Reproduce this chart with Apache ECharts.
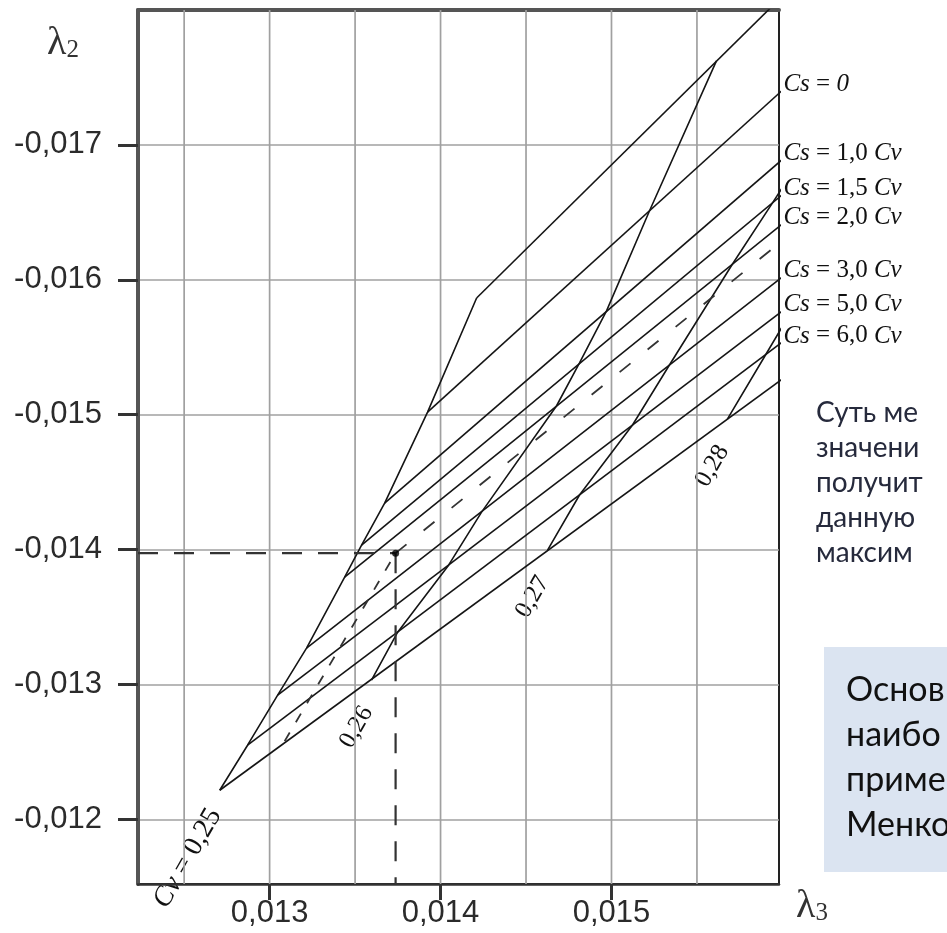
<!DOCTYPE html>
<html><head><meta charset="utf-8">
<script src="https://cdn.jsdelivr.net/npm/echarts@6/dist/echarts.min.js"></script>
<style>html,body{margin:0;padding:0;background:#fff}#c{width:947px;height:933px}</style>
</head><body><div id="c"></div>
<script>
// ---- axes ----
const lambda3Range = [0.01223, 0.01598];
const lambda2Range = [-0.018, -0.01152];
const lambda3Ticks = [0.013, 0.014, 0.015];
const lambda3Grid = [0.0125, 0.013, 0.0135, 0.014, 0.0145, 0.015, 0.0155];
const lambda2Ticks = [-0.017, -0.016, -0.015, -0.014, -0.013, -0.012];

// ---- nomogram: points of each Cv on each Cs line (lowest Cs line first) ----
const cv025 = [[0.012708,-0.012215],[0.012871,-0.012549],[0.013047,-0.01292],[0.013216,-0.013269],[0.013439,-0.013795],[0.013538,-0.014033],[0.013673,-0.014344],[0.013924,-0.015019],[0.014211,-0.015865]];
const cv026 = [[0.013596,-0.013031],[0.013749,-0.013387],[0.014047,-0.013884],[0.01424,-0.014277],[0.014678,-0.015064],[0.014813,-0.015383],[0.014971,-0.015769],[0.015222,-0.01651],[0.015614,-0.017623]];
const cv027 = [[0.014626,-0.013996],[0.014813,-0.014404],[0.015123,-0.014923],[0.015339,-0.015368],[0.015708,-0.016117],[0.015942,-0.01657],[0.016246,-0.017163]];
const cv028 = [[0.015678,-0.014967],[0.015901,-0.015442],[0.016099,-0.015865]];
const csLineEnd = [[0.016,-0.015264],[0.016,-0.015539],[0.016,-0.015769],[0.016,-0.016022],[0.016,-0.016415],[0.016,-0.016631],[0.016,-0.016892],[0.016,-0.017405],[0.016,-0.018103]];
const csLabels = ['', '6,0', '5,0', '3,0', '2,0', '1,5', '1,0', '0', ''];
const cvLabels = ['0,25', '0,26', '0,27', '0,28'];

// ---- worked example ----
const solvedPoint = [0.013737, -0.013973];
const dashedCvStart = [0.013088, -0.012579];
const dashedCsEnd = [0.016, -0.01629];

// ---- side texts ----
const noteLines = ['Суть ме', 'значени', 'получит', 'данную', 'максим'];
const boxLines = ['Основ', 'наибо', 'приме', 'Менко'];

const fmt = v => v.toFixed(3).replace('.', ',');
const chart = echarts.init(document.getElementById('c'), null, {renderer: 'canvas'});
const LINE = {color: '#151515', width: 1.6};
const GRIDLINE = {color: '#a0a0a0', width: 1.7};
const series = [];

lambda3Grid.forEach(v => {
  series.push({type: 'line', data: [[v, lambda2Range[0]], [v, lambda2Range[1]]], symbol: 'none', silent: true, z: 1, lineStyle: GRIDLINE});
});
cv025.forEach((p, i) => {
  series.push({type: 'line', data: [p, csLineEnd[i]], symbol: 'none', silent: true, z: 3, lineStyle: LINE});
});
[cv025, cv026, cv027, cv028].forEach(arr => {
  series.push({type: 'line', data: arr, symbol: 'none', silent: true, z: 3, lineStyle: LINE});
});
const DASH = {color: '#333', width: 2.2, type: [20, 16]};
series.push({type: 'line', data: [dashedCvStart, solvedPoint], symbol: 'none', silent: true, z: 3, lineStyle: {color: '#333', width: 1.8, type: [10, 12]}});
series.push({type: 'line', data: [solvedPoint, dashedCsEnd], symbol: 'none', silent: true, z: 3, lineStyle: {color: '#333', width: 1.8, type: [14, 22]}});
series.push({type: 'line', data: [[lambda3Range[0], solvedPoint[1]], solvedPoint], symbol: 'none', silent: true, z: 3, lineStyle: DASH});
series.push({type: 'line', data: [solvedPoint, [solvedPoint[0], lambda2Range[1]]], symbol: 'none', silent: true, z: 3, lineStyle: DASH});
series.push({type: 'scatter', data: [solvedPoint], symbolSize: 7, itemStyle: {color: '#000'}, z: 4, silent: true});

chart.setOption({
  animation: false,
  backgroundColor: '#fff',
  grid: {left: 138, top: 10, right: 168, bottom: 49, show: true, borderColor: '#222', borderWidth: 2},
  xAxis: [{
    type: 'value', min: lambda3Range[0], max: lambda3Range[1], position: 'bottom',
    axisLine: {show: true, onZero: false, lineStyle: {color: '#333', width: 2.5}},
    axisTick: {show: true, length: 16, customValues: lambda3Ticks, lineStyle: {color: '#333', width: 3}},
    axisLabel: {customValues: lambda3Ticks, formatter: fmt, margin: 14, color: '#2b2b2b', fontSize: 31, fontFamily: 'Liberation Sans'},
    splitLine: {show: false}
  }, {
    type: 'value', min: lambda3Range[0], max: lambda3Range[1], position: 'top',
    axisLine: {show: true, onZero: false, lineStyle: {color: '#555', width: 4}},
    axisTick: {show: false}, axisLabel: {show: false}, splitLine: {show: false}
  }],
  yAxis: {
    type: 'value', inverse: true, min: lambda2Range[0], max: lambda2Range[1], interval: 0.0005,
    axisLine: {show: true, onZero: false, lineStyle: {color: '#555', width: 4}},
    axisTick: {show: true, length: 20, customValues: lambda2Ticks, lineStyle: {color: '#333', width: 3}},
    axisLabel: {customValues: lambda2Ticks, formatter: fmt, margin: 36, color: '#2b2b2b', fontSize: 31, fontFamily: 'Liberation Sans'},
    splitLine: {show: true, lineStyle: GRIDLINE}
  },
  series: series
});

// ---- labels positioned through the chart's scales ----
const px = p => chart.convertToPixel({gridIndex: 0}, p);
const CSF = 25;
const serifRich = {
  i: {fontFamily: 'Liberation Serif', fontStyle: 'italic', fontSize: CSF, fill: '#111'},
  n: {fontFamily: 'Liberation Serif', fontSize: CSF, fill: '#111'}
};
const graphics = [];
csLabels.forEach((lab, i) => {
  if (!lab) return;
  const e = px(csLineEnd[i]);
  const text = lab === '0' ? '{i|Cs}{n| = }{i|0}' : '{i|Cs}{n| = ' + lab + ' }{i|Cv}';
  graphics.push({type: 'text', x: e[0] + 1, y: e[1] - 6, silent: true,
    style: {text: text, align: 'left', verticalAlign: 'middle', rich: serifRich, font: CSF + 'px Liberation Serif'}});
});
[cv025, cv026, cv027, cv028].forEach((arr, k) => {
  const s = px(arr[0]);
  const off = k === 0 ? [-32, 68] : [-15, 47];
  const fs = k === 0 ? 28 : 25;
  const text = k === 0 ? '{i|Cv}{n| = ' + cvLabels[k] + '}' : '{n|' + cvLabels[k] + '}';
  graphics.push({type: 'text', x: s[0] + off[0], y: s[1] + off[1], rotation: Math.PI / 3, silent: true,
    style: {text: text, align: 'center', verticalAlign: 'middle',
      rich: {i: {fontFamily: 'Liberation Serif', fontStyle: 'italic', fontSize: fs, fill: '#111'},
             n: {fontFamily: 'Liberation Serif', fontSize: fs, fill: '#111'}}}});
});
const corner = px([lambda3Range[0], lambda2Range[0]]);
const cornerBR = px([lambda3Range[1], lambda2Range[1]]);
const lamRich = {l: {fontFamily: 'Liberation Serif', fontSize: 40, fill: '#333'}, s: {fontFamily: 'Liberation Serif', fontSize: 25, fill: '#333', verticalAlign: 'bottom', padding: [12, 0, 0, 0]}};
graphics.push({type: 'text', x: corner[0] - 59, y: corner[1] + 33, silent: true,
  style: {text: '{l|λ}{s|2}', align: 'right', verticalAlign: 'middle', rich: lamRich}});
graphics.push({type: 'text', x: cornerBR[0] + 17, y: cornerBR[1] + 22, silent: true,
  style: {text: '{l|λ}{s|3}', align: 'left', verticalAlign: 'middle', rich: lamRich}});
noteLines.forEach((t, i) => {
  graphics.push({type: 'text', x: 816, y: 413 + i * 35, silent: true,
    style: {text: t, fill: '#262a3c', font: '28px Lato', align: 'left', verticalAlign: 'middle'}});
});
graphics.push({type: 'rect', shape: {x: 824, y: 647, width: 130, height: 225}, style: {fill: '#dbe4f1'}, silent: true, z: 0});
boxLines.forEach((t, i) => {
  graphics.push({type: 'text', x: 846, y: 690 + i * 45, silent: true, z: 1,
    style: {text: t, fill: '#111', font: '34px Lato', align: 'left', verticalAlign: 'middle'}});
});
chart.setOption({graphic: graphics});
</script></body></html>
